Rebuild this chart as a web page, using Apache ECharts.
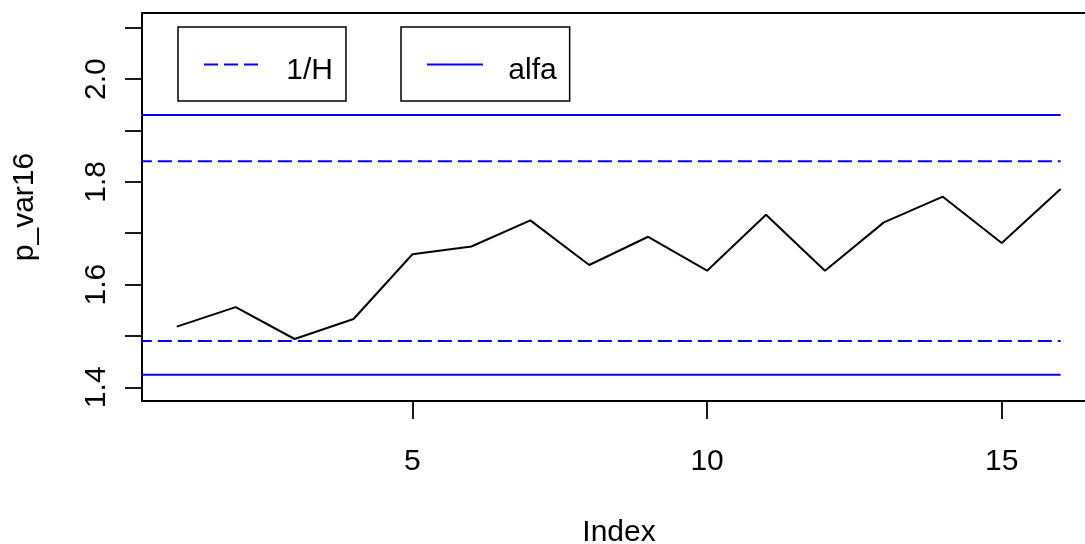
<!DOCTYPE html>
<html>
<head>
<meta charset="utf-8">
<script src="https://cdn.jsdelivr.net/npm/echarts@6/dist/echarts.min.js"></script>
<style>
    html, body { margin: 0; padding: 0; background: #fff; }
    #chart { width: 1085px; height: 544px; }
</style>
</head>
<body>
<div id="chart"></div>
<script>
    // 数据
    const indexVals = [1, 2, 3, 4, 5, 6, 7, 8, 9, 10, 11, 12, 13, 14, 15, 16];
    const pVar16 = [1.518, 1.556, 1.494, 1.533, 1.659, 1.674, 1.725, 1.638,
                    1.693, 1.627, 1.736, 1.627, 1.721, 1.771, 1.681, 1.786];
    const lineX = [0, 16];
    const invH = [1.840, 1.490];     // 1/H (dashed)
    const alfa = [1.930, 1.4245];    // alfa (solid)
    const xTicks = [5, 10, 15];
    const yTicks = [1.4, 1.5, 1.6, 1.7, 1.8, 1.9, 2.0, 2.1];
    const yLabels = [1.4, 1.6, 1.8, 2.0];

    const font = 'Liberation Sans, Arial, sans-serif';
    const blue = '#0000ff';

    function hline(name, v, dashed) {
        return {
            name: name,
            type: 'line',
            symbol: 'none',
            silent: true,
            clip: true,
            lineStyle: { color: blue, width: 2, type: dashed ? [14, 6] : 'solid', cap: 'butt' },
            itemStyle: { color: blue },
            data: lineX.map(x => [x, v])
        };
    }

    function legendBox(name, left, lineW, textPad) {
        return {
            data: [name],
            left: left,
            top: 27,
            orient: 'horizontal',
            itemWidth: lineW,
            itemHeight: 20,
            padding: [29, 13, 15, 25],
            borderColor: '#000',
            borderWidth: 1.5,
            backgroundColor: '#fff',
            itemStyle: { opacity: 0 },
            // 文字比图例线略低一些
            formatter: '{s| }{t|{name}}',
            textStyle: {
                fontFamily: font, fontSize: 30, color: '#000',
                padding: [0, 0, 0, textPad],
                rich: {
                    s: { fontSize: 1, lineHeight: 43 },
                    t: { fontFamily: font, fontSize: 30, color: '#000', lineHeight: 30, verticalAlign: 'bottom' }
                }
            }
        };
    }

    let myChart = echarts.init(document.getElementById('chart'));
    let option = {
        animation: false,
        backgroundColor: '#fff',
        grid: {
            left: 142, top: 13, width: 954, height: 388,
            show: true, borderColor: '#000', borderWidth: 1.8,
            outerBoundsMode: 'none'
        },
        legend: [
            legendBox('1/H', 178, 54, 23),
            legendBox('alfa', 401, 56, 20)
        ],
        xAxis: {
            type: 'value',
            min: 0.41,
            max: 16.6,
            name: 'Index',
            nameLocation: 'middle',
            nameGap: 117,
            nameTextStyle: { fontFamily: font, fontSize: 30, color: '#000' },
            axisLine: { show: true, onZero: false, lineStyle: { color: '#000', width: 1.8 } },
            axisTick: { show: true, inside: false, length: 18, customValues: xTicks,
                        lineStyle: { color: '#000', width: 1.8 } },
            axisLabel: { customValues: xTicks, margin: 46, fontFamily: font, fontSize: 30, color: '#000' },
            splitLine: { show: false }
        },
        yAxis: {
            type: 'value',
            min: 1.3733,
            max: 2.1286,
            name: 'p_var16',
            nameLocation: 'middle',
            nameGap: 102,
            nameTextStyle: { fontFamily: font, fontSize: 30, color: '#000' },
            axisLine: { show: true, onZero: false, lineStyle: { color: '#000', width: 1.8 } },
            axisTick: { show: true, inside: false, length: 17, customValues: yTicks,
                        lineStyle: { color: '#000', width: 1.8 } },
            axisLabel: {
                customValues: yLabels, rotate: 90, margin: 30,
                fontFamily: font, fontSize: 30, color: '#000',
                formatter: v => v.toFixed(1)
            },
            splitLine: { show: false }
        },
        series: [
            {
                name: 'p_var16',
                type: 'line',
                symbol: 'none',
                lineStyle: { color: '#000', width: 2 },
                itemStyle: { color: '#000' },
                data: indexVals.map((x, i) => [x, pVar16[i]])
            },
            hline('1/H', invH[0], true),
            hline('1/H', invH[1], true),
            hline('alfa', alfa[0], false),
            hline('alfa', alfa[1], false)
        ]
    };
    myChart.setOption(option);
</script>
</body>
</html>
